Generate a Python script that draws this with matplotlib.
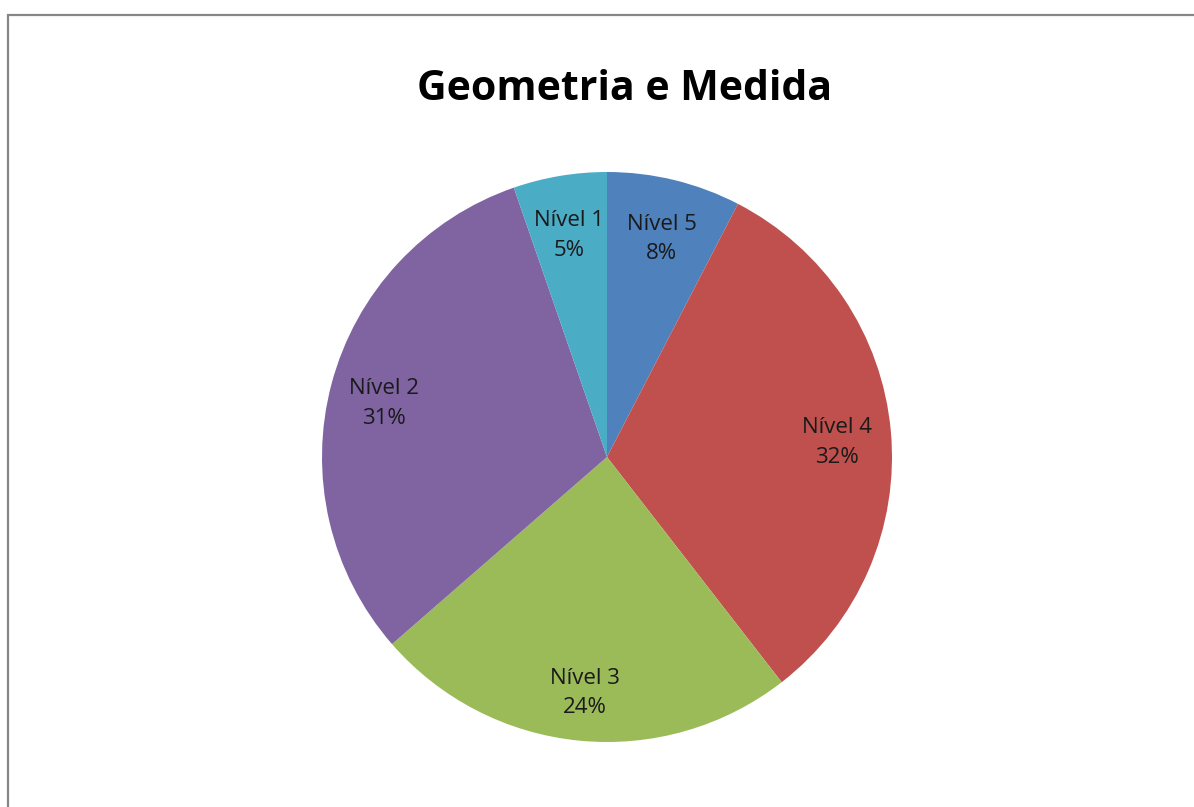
import matplotlib.pyplot as plt
from matplotlib.patches import Rectangle

# data, clockwise from the top
niveis = ["Nível 5", "Nível 4", "Nível 3", "Nível 2", "Nível 1"]
valores = [7.6, 31.9, 24.1, 31.1, 5.3]
cores = ["#4F81BD", "#C0504D", "#9BBB59", "#8064A2", "#4BACC6"]
titulo = "Geometria e Medida"

W, H = 1194, 807
fig = plt.figure(figsize=(W / 100, H / 100), dpi=100)
fig.patch.set_facecolor("white")

# chart area border (runs off the right and bottom edges)
fig.patches.append(Rectangle((8 / W, -0.05), 1.2, (H - 15) / H + 0.05,
                             transform=fig.transFigure, fill=False,
                             edgecolor="#868686", linewidth=1.6, clip_on=False))

cx, cy, R = 607, 457, 285
ax = fig.add_axes([(cx - R) / W, (H - cy - R) / H, 2 * R / W, 2 * R / H])

total = sum(valores)
rotulos = [f"{n}\n{v / total * 100:.0f}%" for n, v in zip(niveis, valores)]

wedges, texts = ax.pie(valores, colors=cores, startangle=90, counterclock=False,
                       labels=rotulos, labeldistance=0.81,
                       wedgeprops=dict(linewidth=0))
for t in texts:
    x, y = t.get_position()
    t.set_position((x, y - 0.022))
    t.set_ha("center")
    t.set_va("center")
    t.set_fontsize(16)
    t.set_family("Open Sans")
    t.set_color("#1a1a1a")
    t.set_linespacing(1.55)

ax.set_xlim(-1, 1)
ax.set_ylim(-1, 1)
ax.set_aspect("equal")

fig.text(625 / W, 1 - 89 / H, titulo, ha="center", va="center",
         fontsize=29.5, fontweight="bold", family="Open Sans")

fig.savefig("out.png", dpi=100)
